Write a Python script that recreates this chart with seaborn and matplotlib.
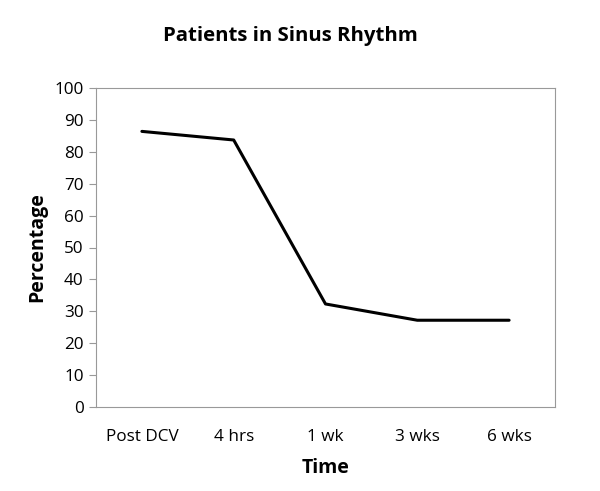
import matplotlib
matplotlib.use("Agg")
import matplotlib.pyplot as plt
import seaborn as sns
import pandas as pd
from matplotlib.ticker import FixedLocator

categories = ["Post DCV", "4 hrs", "1 wk", "3 wks", "6 wks"]
values = [86.4, 83.7, 32.3, 27.2, 27.2]
yticks = list(range(0, 101, 10))

sns.set_style("white")
plt.rcParams['font.family'] = ['Open Sans', 'DejaVu Sans']
plt.rcParams['text.color'] = 'black'
plt.rcParams['axes.labelcolor'] = 'black'
plt.rcParams['xtick.labelcolor'] = 'black'
plt.rcParams['ytick.labelcolor'] = 'black'

df = pd.DataFrame({"Time": categories, "Percentage": values})

fig = plt.figure(figsize=(6, 4.91), dpi=100)
ax = fig.add_axes([96/600, 1-407/491, (555-96)/600, (407-88)/491])
sns.lineplot(data=df, x="Time", y="Percentage", sort=False, color="black", linewidth=2.2, ax=ax)

ax.set_xlim(-0.5, len(categories) - 0.5)
ax.set_ylim(0, 100)
ax.set_yticks(yticks)
ax.set_yticklabels([str(t) for t in yticks], fontsize=12.3, color="black")
ax.set_xticks(range(len(categories)))
ax.set_xticklabels(categories, fontsize=12.3, color="black")
ax.xaxis.set_minor_locator(FixedLocator([i - 0.5 for i in range(len(categories) + 1)]))
ax.tick_params(axis="x", which="major", length=0, pad=16)
ax.tick_params(axis="x", which="minor", length=5, color="#999999", width=0.8)
ax.tick_params(axis="y", which="major", length=5, color="#999999", width=0.8, left=True, pad=4)

for s in ax.spines.values():
    s.set_color("#999999")
    s.set_linewidth(0.8)

ax.set_xlabel("Time", fontsize=14, fontweight="bold", labelpad=9, color="black")
ax.set_ylabel("Percentage", fontsize=14, fontweight="bold", labelpad=5, color="black")
fig.text(290/600, 1-36/491, "Patients in Sinus Rhythm", ha="center", va="center",
         fontsize=14.7, fontweight="bold", color="black")

fig.savefig("out.png", dpi=100, facecolor="white")
